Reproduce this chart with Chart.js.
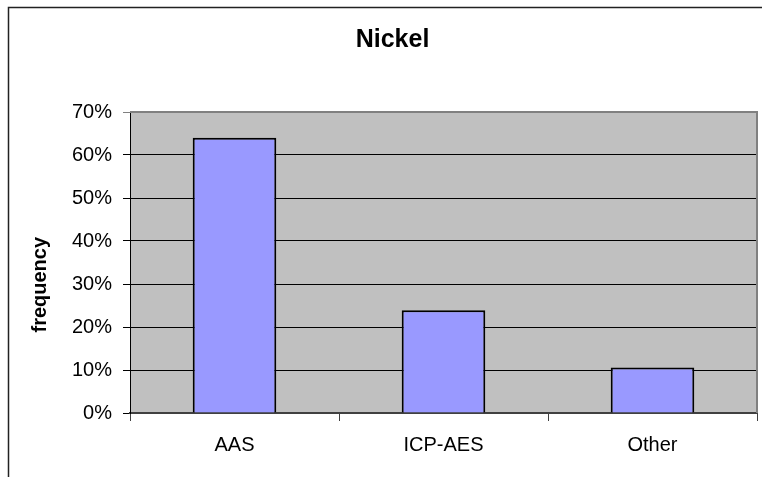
<!DOCTYPE html>
<html lang="en">
<head>
  <meta charset="UTF-8">
  <title>Nickel</title>
  <script src="https://cdn.jsdelivr.net/npm/chart.js"></script>
  <style>
    html, body { margin: 0; padding: 0; background: #fff; }
    #wrap { width: 762px; height: 477px; }
  </style>
</head>
<body>
  <div id="wrap"><canvas id="chart" width="762" height="477"></canvas></div>

  <script>
    // data
    const categories = ['AAS', 'ICP-AES', 'Other'];
    const frequency = [0.64, 0.239, 0.106];
    const yTicks = [0, 0.1, 0.2, 0.3, 0.4, 0.5, 0.6, 0.7];

    const fontFamily = '"Liberation Sans", Arial, sans-serif';

    // grey plot area + outer frame, like the old spreadsheet chart
    const backdrop = {
      id: 'backdrop',
      beforeDraw(chart) {
        const { ctx, chartArea: a } = chart;
        ctx.save();
        ctx.fillStyle = '#fff';
        ctx.fillRect(0, 0, chart.width, chart.height);
        ctx.strokeStyle = '#222';
        ctx.lineWidth = 1.5;
        ctx.strokeRect(8.5, 7.5, 900, 600);
        ctx.fillStyle = '#c0c0c0';
        ctx.fillRect(a.left, a.top, a.right - a.left, a.bottom - a.top);
        ctx.restore();
      },
      afterDatasetsDraw(chart) {
        const { ctx, chartArea: a } = chart;
        ctx.save();
        ctx.strokeStyle = '#808080';
        ctx.lineWidth = 2;
        ctx.beginPath();
        ctx.moveTo(a.left, a.top);
        ctx.lineTo(a.right, a.top);
        ctx.lineTo(a.right, a.bottom);
        ctx.stroke();
        ctx.restore();
      }
    };

    new Chart(document.getElementById('chart'), {
      type: 'bar',
      data: {
        labels: categories,
        datasets: [{
          label: 'frequency',
          data: frequency,
          backgroundColor: '#9999ff',
          borderColor: '#000',
          borderWidth: 2,
          barPercentage: 0.4,
          categoryPercentage: 1
        }]
      },
      options: {
        responsive: false,
        animation: false,
        layout: { padding: { left: 28, right: 5, top: 0, bottom: 0 } },
        plugins: {
          legend: { display: false },
          tooltip: { enabled: false },
          title: {
            display: true,
            text: 'Nickel',
            color: '#000',
            font: { family: fontFamily, size: 25, weight: 'bold' },
            padding: { top: 25, bottom: 57 }
          }
        },
        scales: {
          x: {
            grid: {
              display: true,
              offset: true,
              drawOnChartArea: false,
              drawTicks: true,
              tickLength: 8,
              color: '#404040'
            },
            border: { display: true, color: '#404040', width: 2 },
            ticks: {
              color: '#000',
              padding: 12,
              font: { family: fontFamily, size: 20 }
            },
            afterFit(scale) { scale.height = 64; }
          },
          y: {
            min: 0,
            max: 0.7,
            afterBuildTicks(scale) {
              scale.ticks = yTicks.map(v => ({ value: v }));
            },
            grid: {
              color: ctx => (ctx.tick && ctx.tick.value === 0.7 ? '#808080' : '#000'),
              lineWidth: 1,
              drawTicks: true,
              tickLength: 7
            },
            border: { display: true, color: '#000', width: 1 },
            ticks: {
              color: '#000',
              padding: 11,
              font: { family: fontFamily, size: 20 },
              callback: v => Math.round(v * 100) + '%'
            },
            title: {
              display: true,
              // trailing spaces push the rotated title down a little, as in the original
              text: 'frequency        ',
              color: '#000',
              font: { family: fontFamily, size: 20, weight: 'bold' },
              padding: { top: 0, bottom: 0 }
            },
            afterFit(scale) { scale.width = 102; }
          }
        }
      },
      plugins: [backdrop]
    });
  </script>
</body>
</html>
